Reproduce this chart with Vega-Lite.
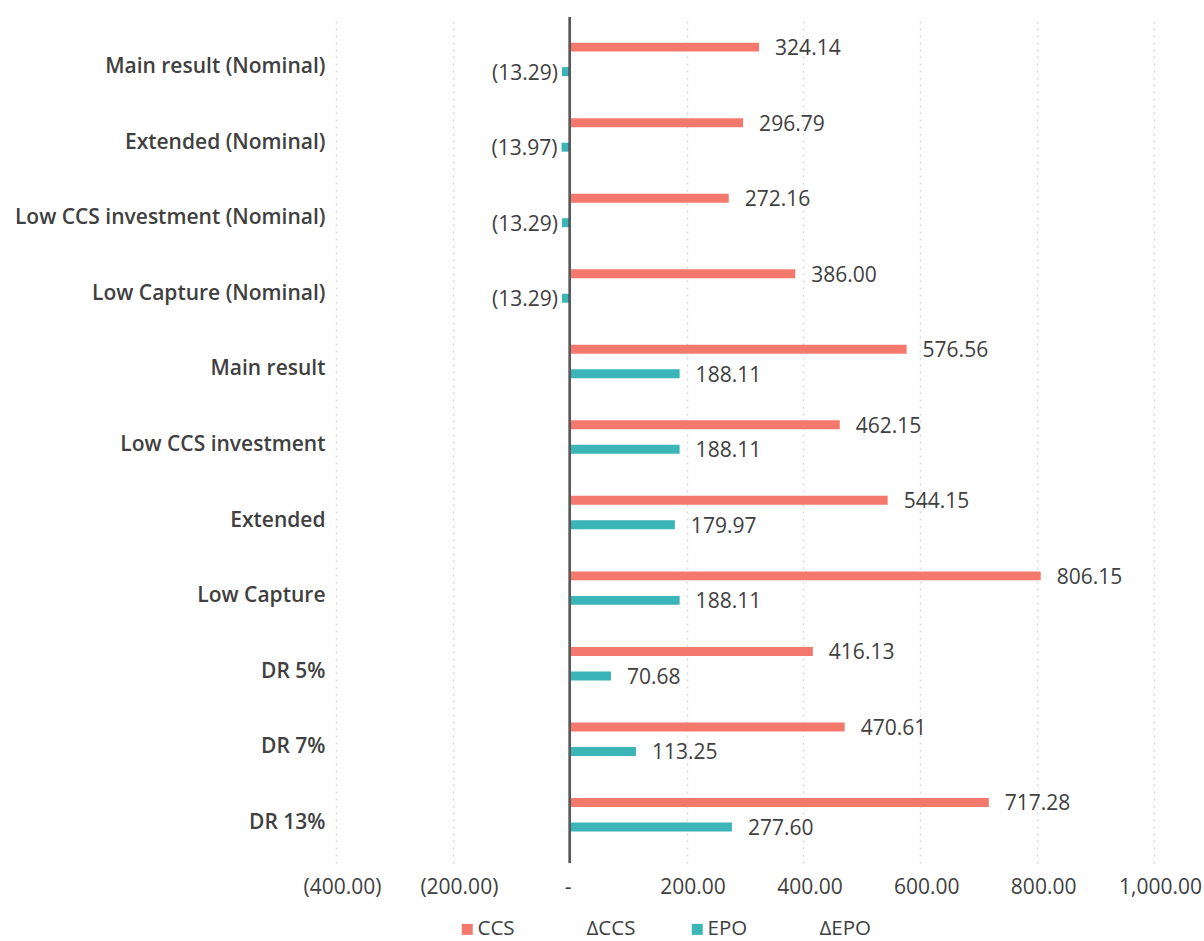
{
  "$schema": "https://vega.github.io/schema/vega-lite/v6.json",
  "width": 818,
  "height": 846,
  "autosize": {"type": "none"},
  "padding": {"left": 336, "top": 17, "right": 50, "bottom": 78},
  "background": "white",
  "config": {
    "font": "Open Sans",
    "view": {"stroke": null},
    "text": {"font": "Open Sans"}
  },
  "data": {
    "values": [
      {"scenario": "Main result (Nominal)", "series": "CCS", "value": 324.14},
      {"scenario": "Main result (Nominal)", "series": "EPO", "value": -13.29},
      {"scenario": "Extended (Nominal)", "series": "CCS", "value": 296.79},
      {"scenario": "Extended (Nominal)", "series": "EPO", "value": -13.97},
      {"scenario": "Low CCS investment (Nominal)", "series": "CCS", "value": 272.16},
      {"scenario": "Low CCS investment (Nominal)", "series": "EPO", "value": -13.29},
      {"scenario": "Low Capture (Nominal)", "series": "CCS", "value": 386.00},
      {"scenario": "Low Capture (Nominal)", "series": "EPO", "value": -13.29},
      {"scenario": "Main result", "series": "CCS", "value": 576.56},
      {"scenario": "Main result", "series": "EPO", "value": 188.11},
      {"scenario": "Low CCS investment", "series": "CCS", "value": 462.15},
      {"scenario": "Low CCS investment", "series": "EPO", "value": 188.11},
      {"scenario": "Extended", "series": "CCS", "value": 544.15},
      {"scenario": "Extended", "series": "EPO", "value": 179.97},
      {"scenario": "Low Capture", "series": "CCS", "value": 806.15},
      {"scenario": "Low Capture", "series": "EPO", "value": 188.11},
      {"scenario": "DR 5%", "series": "CCS", "value": 416.13},
      {"scenario": "DR 5%", "series": "EPO", "value": 70.68},
      {"scenario": "DR 7%", "series": "CCS", "value": 470.61},
      {"scenario": "DR 7%", "series": "EPO", "value": 113.25},
      {"scenario": "DR 13%", "series": "CCS", "value": 717.28},
      {"scenario": "DR 13%", "series": "EPO", "value": 277.60}
    ]
  },
  "encoding": {
    "y": {
      "field": "scenario",
      "type": "nominal",
      "sort": null,
      "title": null,
      "scale": {"paddingInner": 0, "paddingOuter": 0.1},
      "axis": {
        "ticks": false,
        "domain": false,
        "grid": false,
        "labelFont": "Open Sans",
        "labelFontSize": 21,
        "labelFontWeight": 600,
        "labelColor": "#404040",
        "labelPadding": 11,
        "labelOffset": 5,
        "labelLimit": 400
      }
    },
    "yOffset": {
      "field": "series",
      "type": "nominal",
      "scale": {"domain": ["CCS", "EPO"], "paddingInner": 0.633, "paddingOuter": 0.858, "align": 0.43}
    },
    "x": {
      "field": "value",
      "type": "quantitative",
      "title": null,
      "scale": {"domain": [-400, 1000], "nice": false, "zero": false},
      "axis": {
        "values": [-400, -200, 0, 200, 400, 600, 800, 1000],
        "ticks": false,
        "domain": false,
        "grid": true,
        "gridColor": "#D9D9D9",
        "gridDash": [2, 5],
        "gridWidth": 1.5,
        "labelFlush": false,
        "labelOverlap": false,
        "labelOffset": {"condition": {"test": "datum.value == 0", "value": -2}, "value": 6},
        "labelExpr": "datum.value == 0 ? '-' : format(datum.value, '(,.2f')",
        "labelFont": "Open Sans",
        "labelFontSize": 21,
        "labelColor": "#404040",
        "labelPadding": 13
      }
    }
  },
  "layer": [
    {
      "mark": {"type": "bar"},
      "encoding": {
        "color": {
          "field": "series",
          "type": "nominal",
          "scale": {
            "domain": ["CCS", "ΔCCS", "EPO", "ΔEPO"],
            "range": ["#F4786B", "transparent", "#3CB5B9", "transparent"]
          },
          "legend": {
            "title": null,
            "orient": "none",
            "direction": "horizontal",
            "legendX": 121,
            "legendY": 902,
            "symbolType": "square",
            "symbolSize": 121,
            "symbolStrokeWidth": 0,
            "symbolOffset": 0,
            "labelFont": "Open Sans",
            "labelFontSize": 20.5,
            "labelColor": "#404040",
            "labelOffset": 0,
            "labelLimit": 200,
            "columnPadding": 51
          }
        }
      }
    },
    {
      "transform": [{"filter": "datum.value >= 0"}],
      "mark": {"type": "text", "align": "left", "baseline": "middle", "dx": 16, "dy": 2, "fontSize": 21, "color": "#404040"},
      "encoding": {
        "text": {"field": "value", "type": "quantitative", "format": "(,.2f"}
      }
    },
    {
      "transform": [{"filter": "datum.value < 0"}],
      "mark": {"type": "text", "align": "right", "baseline": "middle", "dx": -4, "dy": 2, "fontSize": 21, "color": "#404040"},
      "encoding": {
        "text": {"field": "value", "type": "quantitative", "format": "(,.2f"}
      }
    },
    {
      "mark": {"type": "rule", "color": "#595959", "strokeWidth": 1.5},
      "encoding": {
        "x": {"datum": 0},
        "y": null,
        "yOffset": null
      }
    }
  ]
}
